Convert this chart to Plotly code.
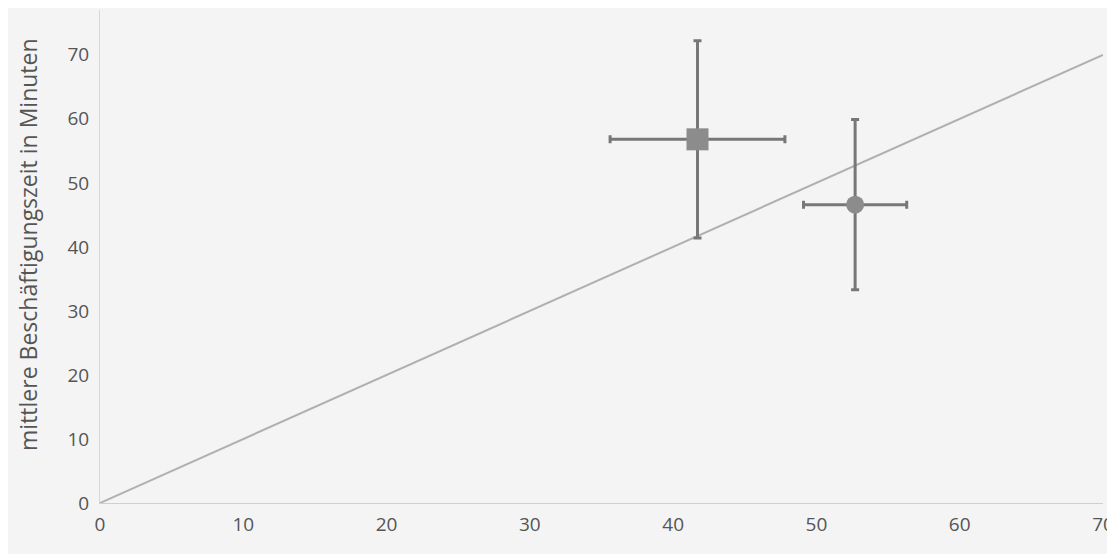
import plotly.graph_objects as go

# data
x_vals = [41.7, 52.7]
y_vals = [56.8, 46.6]
x_err = [6.1, 3.6]
y_err = [15.4, 13.3]
symbols = ["square", "circle"]
sizes = [22, 18]
diag_x = [0, 70]
diag_y = [0, 70]
x_ticks = [0, 10, 20, 30, 40, 50, 60, 70]
y_ticks = [0, 10, 20, 30, 40, 50, 60, 70]
y_title = "mittlere Beschäftigungszeit in Minuten"

fig = go.Figure()
fig.add_trace(go.Scatter(x=diag_x, y=diag_y, mode="lines",
                         line=dict(color="#b0b0b0", width=2), showlegend=False))
for i in range(len(x_vals)):
    fig.add_trace(go.Scatter(
        x=[x_vals[i]], y=[y_vals[i]], mode="markers",
        marker=dict(symbol=symbols[i], size=sizes[i], color="#8c8c8c"),
        error_x=dict(type="data", array=[x_err[i]], color="#777777", thickness=3, width=4),
        error_y=dict(type="data", array=[y_err[i]], color="#777777", thickness=3, width=4),
        showlegend=False))

fig.add_annotation(text=y_title, textangle=-90, xref="paper", yref="paper",
                   x=-0.072, y=0.525, xanchor="center", yanchor="middle", showarrow=False,
                   font=dict(family="Open Sans, sans-serif", size=23, color="#555555"))

fig.update_layout(
    width=1115, height=554,
    margin=dict(l=92, r=20, t=2, b=59),
    paper_bgcolor="#f4f4f4", plot_bgcolor="#f4f4f4",
    font=dict(family="Open Sans, sans-serif", color="#555555", size=19),
    xaxis=dict(range=[0, 70], tickvals=x_ticks, showgrid=False, zeroline=False,
               showline=True, linecolor="#d0d0d0", linewidth=1, ticks="",
               ticklabelstandoff=4, automargin=False),
    yaxis=dict(range=[0, 77], tickvals=y_ticks, showgrid=False, zeroline=False,
               showline=True, linecolor="#d8d8d8", linewidth=1, ticks="",
               ticklabelstandoff=6, automargin=False),
)
fig.write_html("out.html")
